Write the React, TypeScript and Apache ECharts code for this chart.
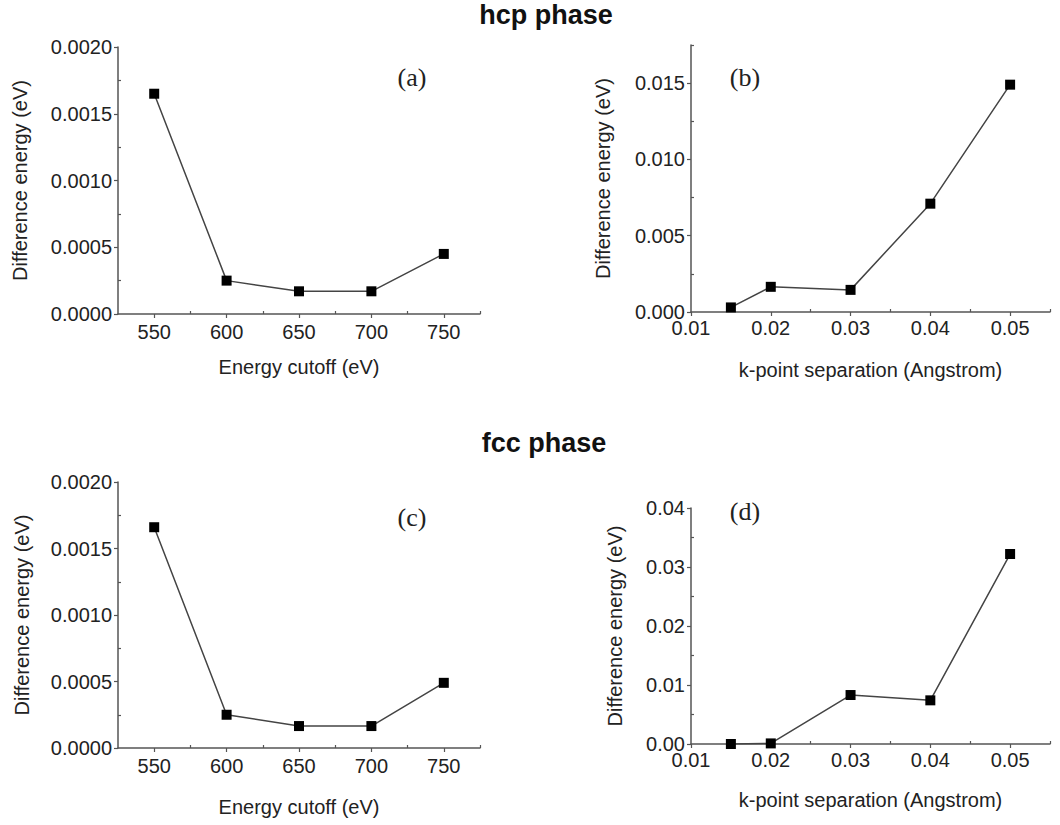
import React, { useEffect, useRef } from "react";
import * as echarts from "echarts";

// Convergence tests: energy difference vs plane-wave cutoff and k-point spacing
const cutoffEnergies = [550, 600, 650, 700, 750];
const hcpCutoffDiff = [0.00165, 0.00025, 0.00017, 0.00017, 0.00045];
const fccCutoffDiff = [0.00166, 0.00025, 0.000165, 0.000165, 0.00049];

const kSpacings = [0.015, 0.02, 0.03, 0.04, 0.05];
const hcpKpointDiff = [0.0003, 0.00165, 0.00145, 0.0071, 0.0149];
const fccKpointDiff = [0.0, 0.0001, 0.0083, 0.0074, 0.0322];

// Axis ticks
const cutoffMajorTicks = [550, 600, 650, 700, 750];
const cutoffMinorTicks = [575, 625, 675, 725, 775];
const kMajorTicks = [0.01, 0.02, 0.03, 0.04, 0.05];
const kMinorTicks = [0.015, 0.025, 0.035, 0.045, 0.055];
const cutoffDiffMajorTicks = [0, 0.0005, 0.001, 0.0015, 0.002];
const cutoffDiffMinorTicks = [0.00025, 0.00075, 0.00125, 0.00175];
const hcpKDiffMajorTicks = [0, 0.005, 0.01, 0.015];
const hcpKDiffMinorTicks = [0.0025, 0.0075, 0.0125, 0.0175];
const fccKDiffMajorTicks = [0, 0.01, 0.02, 0.03, 0.04];
const fccKDiffMinorTicks = [0.005, 0.015, 0.025, 0.035];

const FONT = "'Liberation Sans', Arial, sans-serif";
const TEXT = "#222";
const AXIS = "#555";

type Panel = {
  label: string;
  grid: { left: number; top: number; width: number; height: number };
  xs: number[];
  ys: number[];
  xMin: number;
  xMax: number;
  xMajor: number[];
  xMinor: number[];
  xDigits: number;
  xName: string;
  xNameGap: number;
  xLabelMargin: number;
  yMin: number;
  yMax: number;
  yMajor: number[];
  yMinor: number[];
  yDigits: number;
  yNameGap: number;
  tag: { x: number; y: number };
};

const panels: Panel[] = [
  {
    label: "(a)",
    grid: { left: 118, top: 47, width: 362, height: 267 },
    xs: cutoffEnergies,
    ys: hcpCutoffDiff,
    xMin: 525,
    xMax: 775,
    xMajor: cutoffMajorTicks,
    xMinor: cutoffMinorTicks,
    xDigits: 0,
    xName: "Energy cutoff (eV)",
    xNameGap: 43,
    xLabelMargin: 8,
    yMin: 0,
    yMax: 0.002,
    yMajor: cutoffDiffMajorTicks,
    yMinor: cutoffDiffMinorTicks,
    yDigits: 4,
    yNameGap: 88,
    tag: { x: 412, y: 77 },
  },
  {
    label: "(b)",
    grid: { left: 691, top: 45, width: 359, height: 267 },
    xs: kSpacings,
    ys: hcpKpointDiff,
    xMin: 0.01,
    xMax: 0.055,
    xMajor: kMajorTicks,
    xMinor: kMinorTicks,
    xDigits: 2,
    xName: "k-point separation (Angstrom)",
    xNameGap: 48,
    xLabelMargin: 6,
    yMin: 0,
    yMax: 0.0175,
    yMajor: hcpKDiffMajorTicks,
    yMinor: hcpKDiffMinorTicks,
    yDigits: 3,
    yNameGap: 78,
    tag: { x: 745, y: 77 },
  },
  {
    label: "(c)",
    grid: { left: 118, top: 482, width: 362, height: 266 },
    xs: cutoffEnergies,
    ys: fccCutoffDiff,
    xMin: 525,
    xMax: 775,
    xMajor: cutoffMajorTicks,
    xMinor: cutoffMinorTicks,
    xDigits: 0,
    xName: "Energy cutoff (eV)",
    xNameGap: 49,
    xLabelMargin: 8,
    yMin: 0,
    yMax: 0.002,
    yMajor: cutoffDiffMajorTicks,
    yMinor: cutoffDiffMinorTicks,
    yDigits: 4,
    yNameGap: 86,
    tag: { x: 412, y: 517 },
  },
  {
    label: "(d)",
    grid: { left: 691, top: 508, width: 359, height: 236 },
    xs: kSpacings,
    ys: fccKpointDiff,
    xMin: 0.01,
    xMax: 0.055,
    xMajor: kMajorTicks,
    xMinor: kMinorTicks,
    xDigits: 2,
    xName: "k-point separation (Angstrom)",
    xNameGap: 46,
    xLabelMargin: 6,
    yMin: 0,
    yMax: 0.04,
    yMajor: fccKDiffMajorTicks,
    yMinor: fccKDiffMinorTicks,
    yDigits: 2,
    yNameGap: 66,
    tag: { x: 745, y: 511 },
  },
];

function buildOption() {
  const grid: any[] = [];
  const xAxis: any[] = [];
  const yAxis: any[] = [];
  const series: any[] = [];
  const graphic: any[] = [
    {
      type: "text",
      x: 546,
      y: 15,
      style: {
        text: "hcp phase",
        font: `bold 27px ${FONT}`,
        fill: "#111",
        align: "center",
        verticalAlign: "middle",
      },
    },
    {
      type: "text",
      x: 544,
      y: 443,
      style: {
        text: "fcc phase",
        font: `bold 27px ${FONT}`,
        fill: "#111",
        align: "center",
        verticalAlign: "middle",
      },
    },
  ];

  panels.forEach((p, i) => {
    grid.push({ ...p.grid, containLabel: false });
    const xMajorIdx = xAxis.length;
    // major x axis: line, outward ticks, labels
    xAxis.push({
      type: "value",
      gridIndex: i,
      position: "bottom",
      min: p.xMin,
      max: p.xMax,
      name: p.xName,
      nameLocation: "middle",
      nameGap: p.xNameGap,
      nameTextStyle: { fontFamily: FONT, fontSize: 20, color: TEXT },
      axisLine: { show: true, onZero: false, lineStyle: { color: AXIS, width: 1.5 } },
      axisTick: {
        show: true,
        inside: false,
        length: 4,
        customValues: p.xMajor,
        lineStyle: { color: AXIS, width: 1.2 },
      },
      axisLabel: {
        show: true,
        customValues: p.xMajor,
        margin: p.xLabelMargin,
        fontFamily: FONT,
        fontSize: 20,
        color: TEXT,
        formatter: (v: number) => v.toFixed(p.xDigits),
      },
      splitLine: { show: false },
    });
    // minor x ticks, pointing into the plot
    xAxis.push({
      type: "value",
      gridIndex: i,
      position: "bottom",
      offset: 0,
      min: p.xMin,
      max: p.xMax,
      axisLine: { show: false, onZero: false },
      axisTick: {
        show: true,
        inside: true,
        length: 3,
        customValues: p.xMinor,
        lineStyle: { color: AXIS, width: 1.2 },
      },
      axisLabel: { show: false },
      splitLine: { show: false },
    });
    const yMajorIdx = yAxis.length;
    yAxis.push({
      type: "value",
      gridIndex: i,
      position: "left",
      min: p.yMin,
      max: p.yMax,
      name: "Difference energy (eV)",
      nameLocation: "middle",
      nameGap: p.yNameGap,
      nameTextStyle: { fontFamily: FONT, fontSize: 20, color: TEXT },
      axisLine: { show: true, onZero: false, lineStyle: { color: AXIS, width: 1.5 } },
      axisTick: {
        show: true,
        inside: false,
        length: 4,
        customValues: p.yMajor,
        lineStyle: { color: AXIS, width: 1.2 },
      },
      axisLabel: {
        show: true,
        customValues: p.yMajor,
        margin: 6,
        fontFamily: FONT,
        fontSize: 20,
        color: TEXT,
        formatter: (v: number) => v.toFixed(p.yDigits),
      },
      splitLine: { show: false },
    });
    // minor y ticks, pointing into the plot
    yAxis.push({
      type: "value",
      gridIndex: i,
      position: "left",
      offset: 0,
      min: p.yMin,
      max: p.yMax,
      axisLine: { show: false, onZero: false },
      axisTick: {
        show: true,
        inside: true,
        length: 3,
        customValues: p.yMinor,
        lineStyle: { color: AXIS, width: 1.2 },
      },
      axisLabel: { show: false },
      splitLine: { show: false },
    });

    series.push({
      type: "line",
      xAxisIndex: xMajorIdx,
      yAxisIndex: yMajorIdx,
      data: p.xs.map((x, k) => [x, p.ys[k]]),
      symbol: "rect",
      symbolSize: 10,
      itemStyle: { color: "#000" },
      lineStyle: { color: "#444", width: 1.5 },
      z: 3,
    });

    graphic.push({
      type: "text",
      x: p.tag.x,
      y: p.tag.y,
      style: {
        text: p.label,
        font: `26px 'Liberation Serif', 'Times New Roman', serif`,
        fill: "#222",
        align: "center",
        verticalAlign: "middle",
      },
    });
  });

  return {
    animation: false,
    backgroundColor: "#fff",
    grid,
    xAxis,
    yAxis,
    series,
    graphic,
  };
}

export default function App() {
  const ref = useRef<HTMLDivElement>(null);

  useEffect(() => {
    if (!ref.current) return;
    const chart = echarts.init(ref.current, undefined, { renderer: "svg" });
    chart.setOption(buildOption());
    return () => chart.dispose();
  }, []);

  return (
    <div
      ref={ref}
      style={{ position: "absolute", left: 0, top: 0, width: 1060, height: 825, background: "#fff" }}
    />
  );
}
